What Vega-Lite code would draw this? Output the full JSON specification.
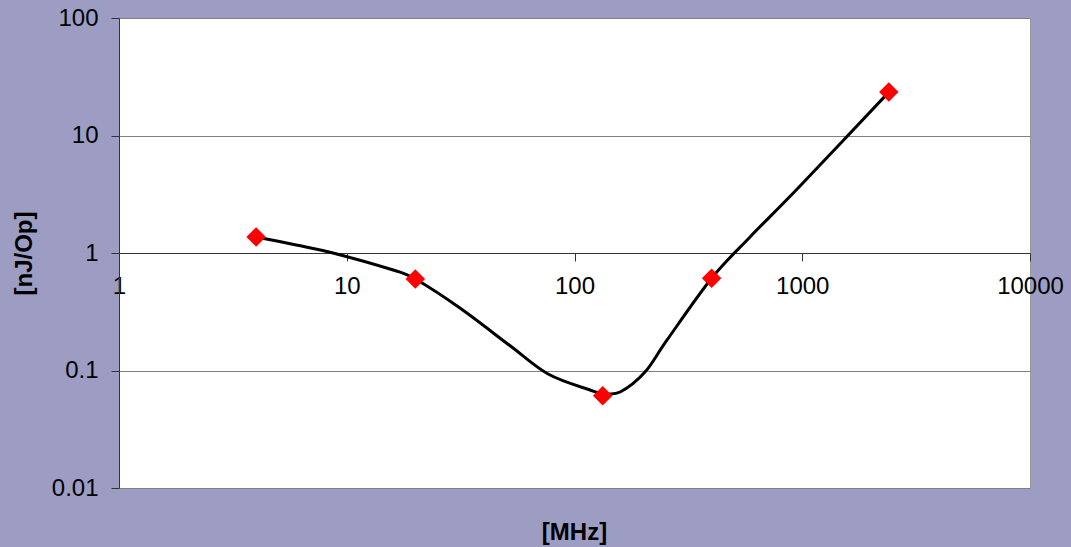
{
  "$schema": "https://vega.github.io/schema/vega-lite/v6.json",
  "width": 911,
  "height": 470,
  "autosize": "none",
  "padding": {"left": 119, "top": 18, "right": 41, "bottom": 59},
  "background": "#9d9dc4",
  "config": {
    "font": "Liberation Sans",
    "view": {"fill": "white", "stroke": "#999999", "strokeWidth": 1}
  },
  "title": {
    "text": "[MHz]",
    "orient": "bottom",
    "anchor": "middle",
    "fontSize": 24,
    "fontWeight": "bold",
    "color": "black",
    "font": "Liberation Sans",
    "offset": 21
  },
  "datasets": {
    "curve": [
      {"mhz": 4, "nj": 1.37},
      {"mhz": 6, "nj": 1.17},
      {"mhz": 8.7, "nj": 1.0},
      {"mhz": 16, "nj": 0.716},
      {"mhz": 20, "nj": 0.6},
      {"mhz": 31.4, "nj": 0.34},
      {"mhz": 52, "nj": 0.163},
      {"mhz": 76.6, "nj": 0.0933},
      {"mhz": 117, "nj": 0.0682},
      {"mhz": 133, "nj": 0.064},
      {"mhz": 158.6, "nj": 0.0656},
      {"mhz": 204, "nj": 0.097},
      {"mhz": 255, "nj": 0.182},
      {"mhz": 400, "nj": 0.61},
      {"mhz": 590, "nj": 1.37},
      {"mhz": 978, "nj": 3.72},
      {"mhz": 2400, "nj": 23.4}
    ],
    "points": [
      {"mhz": 4, "nj": 1.37},
      {"mhz": 20, "nj": 0.6},
      {"mhz": 133, "nj": 0.061},
      {"mhz": 400, "nj": 0.61},
      {"mhz": 2400, "nj": 23.4}
    ]
  },
  "encoding": {
    "x": {
      "field": "mhz",
      "type": "quantitative",
      "scale": {"type": "log", "domain": [1, 10000], "nice": false},
      "axis": {
        "orient": "bottom",
        "offset": -235,
        "values": [1, 10, 100, 1000, 10000],
        "format": "~g",
        "grid": false,
        "title": null,
        "domainColor": "#333333",
        "tickColor": "#333333",
        "tickSize": 8,
        "labelFontSize": 24,
        "labelColor": "black",
        "labelPadding": 13,
        "labelFlush": false,
        "labelOverlap": false
      }
    },
    "y": {
      "field": "nj",
      "type": "quantitative",
      "scale": {"type": "log", "domain": [0.01, 100], "nice": false},
      "axis": {
        "values": [0.01, 0.1, 1, 10, 100],
        "format": "~g",
        "grid": true,
        "gridColor": "#808080",
        "gridOpacity": 1,
        "domainColor": "#333333",
        "tickColor": "#333333",
        "tickSize": 8,
        "labelFontSize": 24,
        "labelColor": "black",
        "labelPadding": 13,
        "labelOverlap": false,
        "labelFlush": false,
        "title": "[nJ/Op]",
        "titleFontSize": 24,
        "titleFontWeight": "bold",
        "titleColor": "black",
        "titleX": -95,
        "titleY": 235,
        "titleBaseline": "middle"
      }
    }
  },
  "layer": [
    {
      "data": {"name": "curve"},
      "mark": {"type": "line", "color": "black", "strokeWidth": 3, "interpolate": "cardinal"}
    },
    {
      "data": {"name": "points"},
      "mark": {"type": "point", "shape": "diamond", "filled": true, "color": "#ff0000", "opacity": 1, "size": 380}
    }
  ]
}
